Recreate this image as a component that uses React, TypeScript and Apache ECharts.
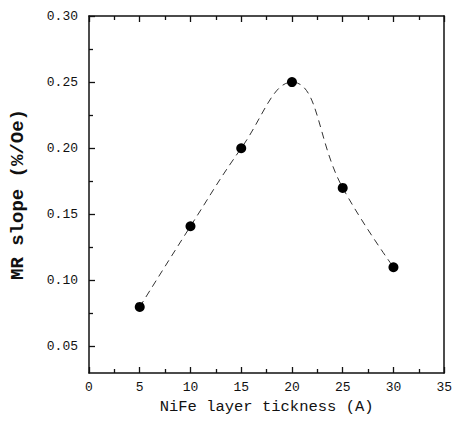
import React, { useEffect, useRef } from "react";
import * as echarts from "echarts";

const thickness = [5, 10, 15, 20, 25, 30];
const mrSlope = [0.08, 0.141, 0.2, 0.25, 0.17, 0.11];
const yTicks = [0.05, 0.1, 0.15, 0.2, 0.25, 0.3];
const yMinorTicks = [0.075, 0.125, 0.175, 0.225, 0.275];
const xTitle = "NiFe layer tickness (A)";
const yTitle = "MR slope (%/Oe)";

const FONT = "'Liberation Mono', 'DejaVu Sans Mono', monospace";

export default function App() {
  const ref = useRef<HTMLDivElement>(null);
  useEffect(() => {
    if (!ref.current) return;
    const chart = echarts.init(ref.current, null, { renderer: "svg" });
    const line = { show: true, lineStyle: { color: "#111", width: 1.5 } };
    chart.setOption({
      animation: false,
      backgroundColor: "#fff",
      grid: { left: 89, top: 16, right: 8, bottom: 50 },
      xAxis: [
        {
          type: "value",
          min: 0,
          max: 35,
          interval: 5,
          axisLine: line,
          axisTick: { show: true, inside: true, length: 6, lineStyle: { color: "#111", width: 1.3 } },
          minorTick: { show: true, splitNumber: 2, length: 4, lineStyle: { color: "#111", width: 1.3 } },
          splitLine: { show: false },
          axisLabel: { color: "#111", fontFamily: FONT, fontSize: 13, margin: 8 },
          name: xTitle,
          nameLocation: "middle",
          nameGap: 25,
          nameTextStyle: { color: "#111", fontFamily: FONT, fontSize: 15.5 },
        },
        {
          type: "value",
          position: "top",
          min: 0,
          max: 35,
          interval: 5,
          axisLine: line,
          axisTick: { show: true, inside: true, length: 6, lineStyle: { color: "#111", width: 1.3 } },
          minorTick: { show: true, splitNumber: 2, length: 4, lineStyle: { color: "#111", width: 1.3 } },
          splitLine: { show: false },
          axisLabel: { show: false },
        },
      ],
      yAxis: [
        {
          type: "value",
          min: 0.03,
          max: 0.3,
          axisLine: line,
          axisTick: { show: true, inside: true, length: 6, customValues: yTicks, lineStyle: { color: "#111", width: 1.3 } },
          splitLine: { show: false },
          axisLabel: {
            customValues: yTicks,
            color: "#111",
            fontFamily: FONT,
            fontSize: 13,
            margin: 11,
            formatter: (v: number) => v.toFixed(2),
          },
          name: yTitle,
          nameLocation: "middle",
          nameGap: 62,
          nameTextStyle: { color: "#111", fontFamily: FONT, fontSize: 19, fontWeight: "bold" },
        },
        {
          type: "value",
          min: 0.03,
          max: 0.3,
          position: "left",
          axisLine: { show: false },
          axisTick: { show: true, inside: true, length: 4, customValues: yMinorTicks, lineStyle: { color: "#111", width: 1.3 } },
          splitLine: { show: false },
          axisLabel: { show: false },
        },
        {
          type: "value",
          min: 0.03,
          max: 0.3,
          position: "right",
          axisLine: line,
          axisTick: { show: false },
          splitLine: { show: false },
          axisLabel: { show: false },
        },
      ],
      series: [
        {
          type: "line",
          data: thickness.map((x, i) => [x, mrSlope[i]]),
          smooth: 0.45,
          symbol: "circle",
          symbolSize: 10,
          itemStyle: { color: "#000" },
          lineStyle: { color: "#333", width: 1, type: [7, 5] },
        },
      ],
    });
    return () => chart.dispose();
  }, []);
  return <div ref={ref} style={{ width: 455, height: 423, position: "absolute", left: 0, top: 0 }} />;
}
